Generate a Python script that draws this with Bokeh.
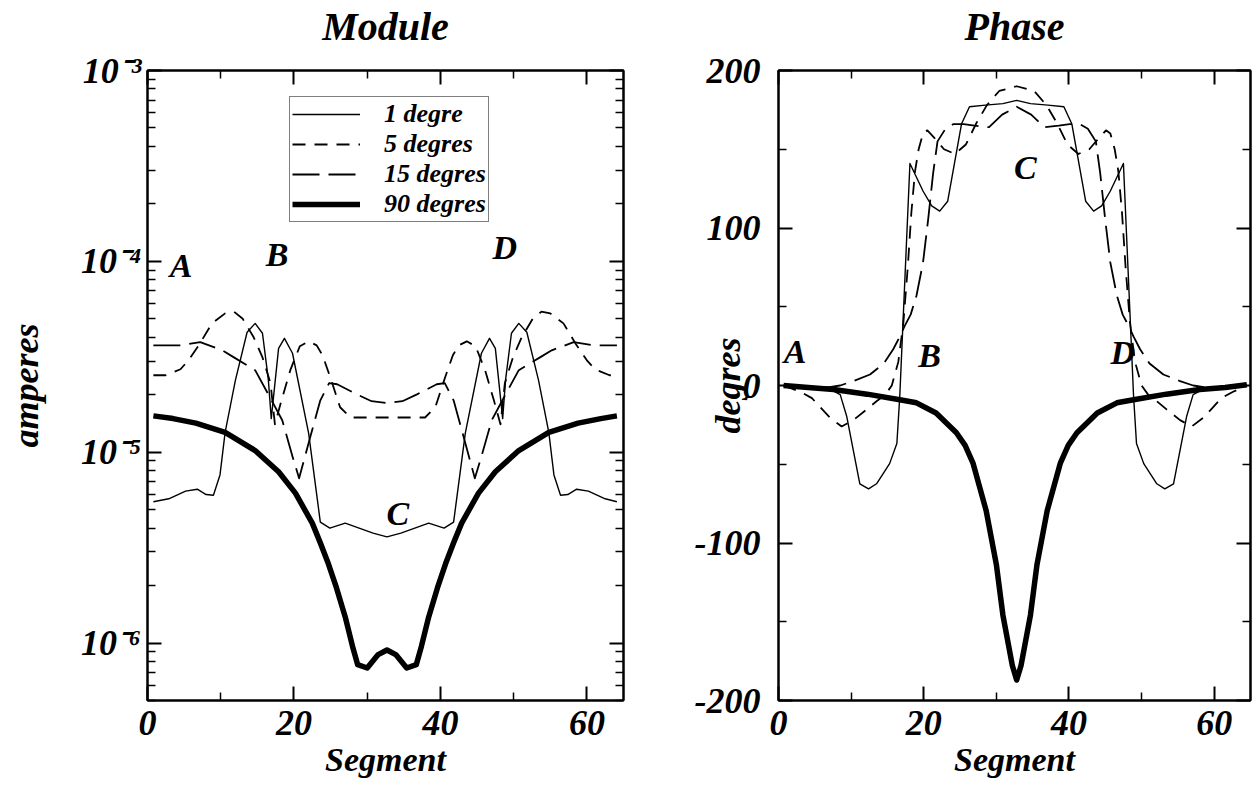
from bokeh.plotting import figure
from bokeh.models import (FixedTicker, LinearAxis, LogAxis, CustomJSTickFormatter,
                          ColumnDataSource, Range1d)
from bokeh.layouts import row
from bokeh.embed import file_html
from bokeh.resources import INLINE
from bokeh.core.properties import value

FONT = "Liberation Serif"

# ---------------- ticks ----------------
x_major = [0, 20, 40, 60]
x_minor = [10, 30, 50]
mod_major = [1e-6, 1e-5, 1e-4, 1e-3]
mod_minor = [k * 10.0 ** e for e in (-7, -6, -5, -4) for k in range(2, 10)]
mod_minor = [v for v in mod_minor if 5e-7 <= v <= 1e-3]
ph_major = [-200, -100, 0, 100, 200]
ph_minor = [-150, -50, 50, 150]

labels = ["1 degre", "5 degres", "15 degres", "90 degres"]

# ---------------- Module (amperes) ----------------
mod_seg_1 = [0.8, 2.9, 5.2, 6.8, 8.0, 9.0, 9.9, 10.6, 12.0, 13.6, 14.7, 15.7, 16.5, 16.9,
             17.9, 18.7, 19.8, 22.0, 23.6, 24.9, 27.0, 28.9, 30.8, 32.7,
             34.6, 36.5, 38.4, 40.5, 41.8, 43.4, 45.6, 46.7, 47.5, 48.5, 48.9, 49.7,
             50.7, 51.8, 53.4, 54.8, 55.5, 56.4, 57.4, 58.6, 60.2, 62.5, 64.1]
mod_val_1 = [5.5e-6, 5.7e-6, 6.25e-6, 6.4e-6, 6.0e-6, 5.95e-6, 7.6e-6, 1.27e-5, 2.38e-5, 4.25e-5,
             4.73e-5, 4.2e-5, 2.4e-5, 1.5e-5, 3.5e-5, 3.95e-5, 3.3e-5, 1.26e-5, 4.3e-6, 4.0e-6,
             4.25e-6, 4.0e-6, 3.77e-6, 3.6e-6,
             3.77e-6, 4.0e-6, 4.25e-6, 4.0e-6, 4.3e-6, 1.26e-5, 3.3e-5, 3.95e-5, 3.5e-5, 1.5e-5,
             2.4e-5, 4.2e-5, 4.73e-5, 4.25e-5, 2.38e-5, 1.27e-5, 7.6e-6, 5.95e-6, 6.0e-6, 6.4e-6,
             6.25e-6, 5.7e-6, 5.5e-6]

mod_seg_5 = [0.8, 2.5, 4.5, 5.6, 7.0, 8.8, 10.6, 11.8, 13.0, 14.5, 15.7, 16.8, 17.4, 18.3,
             19.5, 20.8, 22.0, 23.1, 23.9, 25.0, 26.3, 27.7, 32.7,
             37.9, 39.3, 40.6, 41.7, 42.5, 43.6, 44.8, 46.1, 47.3, 48.2, 48.8, 49.9, 51.1,
             52.6, 53.8, 55.0, 56.8, 58.6, 60.0, 61.1, 63.1, 64.1]
mod_val_5 = [2.53e-5, 2.53e-5, 2.72e-5, 3.03e-5, 3.63e-5, 4.73e-5, 5.34e-5, 5.45e-5, 5.0e-5,
             4.0e-5, 3.14e-5, 2.3e-5, 1.4e-5, 1.87e-5, 2.69e-5, 3.59e-5, 3.81e-5, 3.63e-5,
             3.22e-5, 2.44e-5, 1.72e-5, 1.52e-5, 1.52e-5,
             1.52e-5, 1.72e-5, 2.44e-5, 3.22e-5, 3.63e-5, 3.81e-5, 3.59e-5, 2.69e-5, 1.87e-5,
             1.4e-5, 2.3e-5, 3.14e-5, 4.0e-5, 5.0e-5, 5.45e-5, 5.34e-5, 4.73e-5, 3.63e-5,
             3.03e-5, 2.72e-5, 2.53e-5, 2.53e-5]

mod_seg_15 = [0.8, 4.5, 7.2, 10.2, 11.8, 14.7, 16.5, 18.4, 19.8, 20.7, 22.3, 23.6, 24.8, 25.9,
              28.6, 30.6, 32.7, 34.8, 36.8, 39.5, 40.6, 41.8, 43.1, 44.7, 45.6, 47.0, 48.9,
              50.7, 53.6, 55.2, 58.2, 60.9, 64.1]
mod_val_15 = [3.63e-5, 3.63e-5, 3.77e-5, 3.42e-5, 3.14e-5, 2.69e-5, 2.01e-5, 1.47e-5, 9.5e-6,
              7.3e-6, 1.23e-5, 1.87e-5, 2.3e-5, 2.27e-5, 2.01e-5, 1.85e-5, 1.81e-5, 1.85e-5,
              2.01e-5, 2.27e-5, 2.3e-5, 1.87e-5, 1.23e-5, 7.3e-6, 9.5e-6, 1.47e-5, 2.01e-5,
              2.69e-5, 3.14e-5, 3.42e-5, 3.77e-5, 3.63e-5, 3.63e-5]

mod_seg_90 = [0.8, 3.5, 6.6, 10.6, 14.7, 17.9, 20.2, 22.5, 23.6, 24.7, 25.8, 27.0, 28.0, 28.7,
              30.0, 31.5, 32.7, 33.9, 35.4, 36.7, 37.4, 38.4, 39.6, 40.7, 41.8, 42.9, 45.2,
              47.5, 50.7, 54.8, 58.8, 61.9, 64.1]
mod_val_90 = [1.55e-5, 1.5e-5, 1.42e-5, 1.27e-5, 1.02e-5, 7.9e-6, 6.1e-6, 4.25e-6, 3.35e-6,
              2.6e-6, 1.95e-6, 1.37e-6, 9.6e-7, 7.7e-7, 7.4e-7, 8.7e-7, 9.2e-7, 8.7e-7, 7.4e-7,
              7.7e-7, 9.6e-7, 1.37e-6, 1.95e-6, 2.6e-6, 3.35e-6, 4.25e-6, 6.1e-6, 7.9e-6,
              1.02e-5, 1.27e-5, 1.42e-5, 1.5e-5, 1.55e-5]

# ---------------- Phase (degres) ----------------
ph_seg_1 = [0.7, 4.0, 7.6, 8.5, 9.4, 11.2, 12.4, 13.5, 15.3, 16.3, 16.7, 18.1, 19.9, 21.1,
            22.2, 23.3, 25.2, 26.3, 28.5, 30.9, 32.8, 34.7, 37.1, 39.3, 40.4, 42.3, 43.4,
            44.5, 45.7, 47.5, 48.9, 49.3, 50.3, 52.1, 53.2, 54.4, 56.2, 57.1, 58.0, 61.6, 64.5]
ph_val_1 = [0, -1.5, -3.6, -5.8, -19.7, -62.4, -65.6, -62.4, -49.6, -36.8, -7, 141, 123.5, 114,
            110.7, 117, 166, 177, 178, 179, 181, 179, 178, 177, 166, 117, 110.7,
            114, 123.5, 141, -7, -36.8, -49.6, -62.4, -65.6, -62.4, -19.7, -5.8, -3.6, -1.5, 0.5]

ph_seg_5 = [0.7, 3.0, 4.6, 5.8, 7.1, 8.7, 10.3, 12.2, 13.5, 14.7, 15.6, 16.5, 17.2, 17.8, 18.3,
            18.8, 19.3, 19.9, 20.5, 21.5, 22.8, 24.3, 25.8, 27.3, 28.7, 30.4, 32.8,
            35.2, 36.9, 38.3, 39.8, 41.3, 42.8, 44.1, 45.1, 45.7, 46.3, 46.8, 47.3, 47.8,
            48.4, 49.1, 50.0, 50.9, 52.1, 53.4, 55.3, 56.9, 58.5, 59.8, 61.0, 62.6, 64.5]
ph_val_5 = [0, -4, -8, -14, -20.5, -26, -22, -15, -10, -5.8, 0, 15, 40, 75, 110,
            136, 150, 160, 162, 157, 150, 147, 153, 167, 178, 187, 190,
            187, 178, 167, 153, 147, 150, 157, 162, 160, 150, 136, 110, 75,
            40, 15, 0, -5.8, -10, -15, -22, -26, -20.5, -14, -8, -4, 0]

ph_seg_15 = [0.7, 4.0, 7.0, 8.5, 10.4, 12.6, 14.5, 15.8, 16.7, 17.4, 18.2, 19.0, 19.9, 20.6,
             21.3, 21.9, 23.0, 24.1, 25.5, 27.0, 29.0, 30.8, 32.8, 34.8, 36.6, 38.6, 40.1,
             41.5, 42.6, 43.7, 44.3, 45.0, 45.7, 46.6, 47.4, 48.2, 48.9, 49.8, 51.1, 53.0,
             55.2, 57.1, 58.6, 61.6, 64.5]
ph_val_15 = [0, -1, -1, 0, 3, 7, 14, 23, 31, 38, 45, 57, 78, 105,
             135, 155, 163, 166, 166, 165, 164, 172, 177, 172, 164, 165, 166,
             166, 163, 155, 135, 105, 78, 57, 45, 38, 31, 23, 14, 7,
             3, 0, -1, -1, 0]

ph_seg_90 = [0.7, 4.1, 7.6, 12.2, 16.7, 19.0, 21.7, 24.5, 25.7, 26.8, 28.6, 30.0, 30.9, 32.2,
             32.8, 33.4, 34.7, 35.6, 37.0, 38.8, 39.9, 41.1, 43.9, 46.6, 48.9, 53.4, 58.0,
             61.5, 64.5]
ph_val_90 = [0, -1.3, -2.6, -5.5, -9, -11, -17.5, -30, -38, -49.5, -79.5, -113.6, -145.7,
             -177.8, -187, -177.8, -145.7, -113.6, -79.5, -49.5, -38, -30, -17.5, -11, -9,
             -5.5, -2.6, -1.3, 0.5]

# annotation letters
mod_letters = ["A", "B", "C", "D"]
mod_letter_x = [4.6, 17.7, 34.2, 48.8]
mod_letter_y = [9.5e-5, 1.09e-4, 4.8e-6, 1.18e-4]
ph_letters = ["A", "B", "C", "D"]
ph_letter_x = [2.3, 20.8, 34.0, 47.4]
ph_letter_y = [21.8, 19.2, 138.5, 21.2]

styles = [
    dict(line_width=1.4, line_dash="solid"),
    dict(line_width=1.8, line_dash="13 9"),
    dict(line_width=1.8, line_dash="27 9"),
    dict(line_width=5.5, line_dash="solid"),
]

BLANK = CustomJSTickFormatter(code="return '';")
PLAIN = CustomJSTickFormatter(code="return String(tick);")


def style_axis(ax, show_labels=True, size="36px", standoff=10):
    ax.axis_line_color = "black"
    ax.axis_line_width = 2
    ax.major_tick_in = 14
    ax.major_tick_out = 0
    ax.minor_tick_in = 8
    ax.minor_tick_out = 0
    ax.major_tick_line_width = 2
    ax.minor_tick_line_width = 1.5
    ax.major_tick_line_color = "black"
    ax.minor_tick_line_color = "black"
    ax.major_label_text_font = FONT
    ax.major_label_text_font_style = "bold italic"
    ax.major_label_text_color = "black"
    ax.axis_label_text_font = FONT
    ax.axis_label_text_font_style = "bold italic"
    ax.axis_label_text_color = "black"
    ax.axis_label_text_font_size = "34px"
    if show_labels:
        ax.major_label_standoff = standoff
        ax.major_label_text_font_size = size
    else:
        ax.formatter = BLANK
        ax.major_label_standoff = 0
        ax.major_label_text_font_size = "2px"


def base_fig(y_range, y_log, fw, bl, br):
    p = figure(frame_width=fw, frame_height=630,
               x_range=Range1d(0, 65), y_range=y_range,
               y_axis_type="log" if y_log else "linear",
               output_backend="svg", toolbar_location=None,
               min_border_left=bl, min_border_right=br,
               min_border_top=70, min_border_bottom=98,
               background_fill_color="white", border_fill_color="white")
    p.xgrid.visible = False
    p.ygrid.visible = False
    p.outline_line_color = "black"
    p.outline_line_width = 2
    return p


def top_axis(p, ticker, title):
    ax = LinearAxis(ticker=ticker)
    style_axis(ax, False)
    # the panel title is carried by the mirrored top axis, centred on the frame
    ax.axis_label = title
    ax.axis_label_text_font_size = "40px"
    ax.axis_label_standoff = 22
    p.add_layout(ax, "above")
    return ax


xt = FixedTicker(ticks=x_major, minor_ticks=x_minor)

# ---------------- left figure ----------------
p1 = base_fig(Range1d(5e-7, 1e-3), True, 476, 147, 30)
yt1 = FixedTicker(ticks=mod_major, minor_ticks=mod_minor)
sup_code = """
const e = Math.round(Math.log10(tick));
const sup = {'-':'\u207b','0':'\u2070','1':'\u00b9','2':'\u00b2','3':'\u00b3','4':'\u2074','5':'\u2075','6':'\u2076','7':'\u2077','8':'\u2078','9':'\u2079'};
return '10' + String(e).split('').map(c => sup[c]).join('');
"""
p1.xaxis[0].ticker = xt
p1.xaxis[0].axis_label = "Segment"
style_axis(p1.xaxis[0], True, "36px", 10)
p1.xaxis[0].axis_label_standoff = 3
p1.yaxis[0].ticker = yt1
p1.yaxis[0].formatter = CustomJSTickFormatter(code=sup_code)
p1.yaxis[0].axis_label = "amperes"
style_axis(p1.yaxis[0], True, "36px", 6)
p1.yaxis[0].axis_label_text_font_size = "36px"
p1.yaxis[0].axis_label_standoff = 32
top_axis(p1, xt, "Module")
ax_r1 = LogAxis(ticker=yt1)
style_axis(ax_r1, False)
p1.add_layout(ax_r1, "right")

mod_series = [(mod_seg_1, mod_val_1), (mod_seg_5, mod_val_5),
              (mod_seg_15, mod_val_15), (mod_seg_90, mod_val_90)]
for (xs, ys), lab, st in zip(mod_series, labels, styles):
    p1.line(xs, ys, line_color="black", legend_label=lab, line_join="round", **st)

src1 = ColumnDataSource(dict(x=mod_letter_x, y=mod_letter_y, t=mod_letters))
p1.text(x="x", y="y", text="t", source=src1, text_font=value(FONT),
        text_font_style="bold italic", text_font_size="34px",
        text_align="center", text_baseline="middle", text_color="black")

lg = p1.legend[0]
lg.location = (142, 478)
lg.margin = 0
lg.padding = 2
lg.spacing = 0
lg.border_line_color = "black"
lg.border_line_width = 1.5
lg.background_fill_alpha = 1
lg.label_text_font = FONT
lg.label_text_font_style = "bold italic"
lg.label_text_font_size = "26px"
lg.label_text_line_height = 1.0
lg.label_text_color = "black"
lg.glyph_width = 68
lg.glyph_height = 24
lg.label_height = 24
lg.label_standoff = 24

# ---------------- right figure ----------------
p2 = base_fig(Range1d(-200, 200), False, 472, 125, 3)
yt2 = FixedTicker(ticks=ph_major, minor_ticks=ph_minor)
p2.xaxis[0].ticker = xt
p2.xaxis[0].axis_label = "Segment"
style_axis(p2.xaxis[0], True, "36px", 10)
p2.xaxis[0].axis_label_standoff = 3
p2.yaxis[0].ticker = yt2
p2.yaxis[0].formatter = PLAIN
p2.yaxis[0].axis_label = "degres"
style_axis(p2.yaxis[0], True, "36px", 18)
p2.yaxis[0].axis_label_text_font_size = "36px"
p2.yaxis[0].axis_label_standoff = -56
top_axis(p2, xt, "Phase")
ax_r2 = LinearAxis(ticker=yt2)
style_axis(ax_r2, False)
p2.add_layout(ax_r2, "right")

ph_series = [(ph_seg_1, ph_val_1), (ph_seg_5, ph_val_5),
             (ph_seg_15, ph_val_15), (ph_seg_90, ph_val_90)]
for (xs, ys), st in zip(ph_series, styles):
    p2.line(xs, ys, line_color="black", line_join="round", **st)

src2 = ColumnDataSource(dict(x=ph_letter_x, y=ph_letter_y, t=ph_letters))
p2.text(x="x", y="y", text="t", source=src2, text_font=value(FONT),
        text_font_style="bold italic", text_font_size="34px",
        text_align="center", text_baseline="middle", text_color="black")

layout = row(p1, p2)
open("out.html", "w").write(file_html(layout, INLINE))
